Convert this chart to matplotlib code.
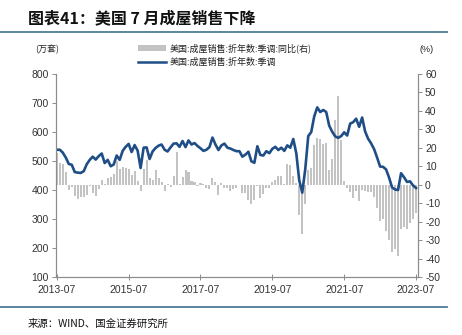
import matplotlib
matplotlib.use('Agg')
import matplotlib.pyplot as plt
from matplotlib.patches import Patch
from matplotlib.lines import Line2D
import numpy as np

plt.rcParams['font.family'] = ['Liberation Sans', 'Noto Sans CJK SC', 'DejaVu Sans']
plt.rcParams['axes.unicode_minus'] = False

# 月度数据：2013-07 至 2023-07
xtick_labels = ['2013-07', '2015-07', '2017-07', '2019-07', '2021-07', '2023-07']

# 成屋销售：折年数：季调（万套）
sales = [
    539, 539, 529, 512, 490, 487,
    462, 460, 459, 465, 489, 504, 515, 505, 517, 526, 493, 504,
    482, 488, 519, 504, 535, 549, 559, 531, 555, 536, 476, 546,
    547, 507, 533, 545, 553, 557, 539, 533, 547, 560, 561, 549,
    569, 548, 571, 557, 562, 552, 544, 535, 539, 548, 581, 557,
    538, 554, 560, 546, 543, 538, 534, 534, 515, 522, 532, 499,
    494, 551, 521, 519, 534, 527, 542, 549, 538, 546, 535, 554,
    546, 576, 527, 433, 391, 472, 586, 600, 654, 685, 669, 676,
    669, 622, 601, 585, 580, 586, 599, 588, 629, 634, 646, 618,
    650, 602, 577, 561, 541, 512, 481, 480, 471, 443, 409, 402,
    400, 458, 444, 428, 430, 416, 407,
]

# 同比（%），右轴
yoy = [
    17.0, 11.8, 11.4, 6.9, -2.8, -1.4,
    -6.1, -7.6, -6.7, -6.4, -5.6, -0.8, -4.5, -6.3, -2.3, 2.7, 0.6, 3.5,
    4.3, 6.1, 13.1, 8.4, 9.4, 8.9, 8.5, 5.1, 7.4, 1.9, -3.4, 8.3,
    13.5, 3.9, 2.7, 8.1, 3.4, 1.5, -3.6, 0.4, -1.4, 4.5, 17.9, 0.5,
    4.0, 8.1, 7.1, 2.2, 1.6, -0.9, 0.9, 0.4, -1.5, -2.1, 3.6, 1.5,
    -5.4, 1.1, -1.9, -2.0, -3.4, -2.5, -1.8, -0.2, -4.5, -4.7, -8.4, -10.4,
    -8.2, -0.5, -7.0, -4.9, -1.7, -2.0, 1.5, 2.8, 4.5, 4.6, 0.6, 11.0,
    10.5, 4.5, 1.2, -16.6, -26.8, -10.4, 8.1, 9.3, 21.6, 25.5, 25.0, 22.0,
    22.5, 8.0, 14.0, 35.1, 48.3, 24.2, 2.2, -2.0, -3.8, -7.4, -3.4, -8.6,
    -2.8, -3.2, -4.0, -4.1, -6.7, -12.6, -19.7, -18.4, -25.1, -30.1, -36.7, -34.9,
    -38.5, -23.9, -23.1, -23.7, -20.5, -18.8, -15.4,
]

x = np.arange(len(sales))

fig = plt.figure(figsize=(4.62, 3.35), dpi=100)
ax1 = fig.add_axes([0.121, 0.173, 0.784, 0.606])
ax2 = ax1.twinx()

bar_color = '#c3c3c3'
line_color = '#1f4e87'
spine_color = '#8c8c8c'

ax2.bar(x, yoy, width=0.68, color=bar_color, linewidth=0)
ax1.plot(x, sales, color=line_color, lw=1.9)
ax1.set_zorder(ax2.get_zorder() + 1)
ax1.patch.set_visible(False)

ax1.set_xlim(-0.3, 120.7)
ax1.set_ylim(100, 800)
ax1.set_yticks(range(100, 801, 100))
ax2.set_ylim(-50, 60)
ax2.set_yticks(range(-50, 61, 10))
ax1.set_xticks(range(0, 121, 24))
ax1.set_xticklabels(xtick_labels)

for ax in (ax1, ax2):
    for s in ax.spines.values():
        s.set_color(spine_color)
        s.set_linewidth(0.8)
    ax.spines['top'].set_visible(False)
    ax.tick_params(labelsize=7.5, colors='#333333', length=3, width=0.7)
    ax.tick_params(axis='both', color=spine_color)
ax1.tick_params(axis='x', direction='inout', length=4, pad=4)
ax1.tick_params(axis='y', pad=2)
ax2.tick_params(axis='y', pad=2)

# 标题与分隔线
fig.text(0.06, 0.945, '图表41：美国 7 月成屋销售下降', fontsize=11.5, fontweight='bold',
         style='italic', family=['Noto Sans CJK SC'], ha='left', va='center', color='#111111')
fig.add_artist(Line2D([0.0, 0.968], [0.904, 0.904], color='#4d7c98', lw=1.3))
fig.add_artist(Line2D([0.0, 0.968], [0.083, 0.083], color='#4d7c98', lw=1.3))
fig.text(0.06, 0.035, '来源：WIND、国金证券研究所', fontsize=7.5,
         family=['Noto Sans CJK SC'], ha='left', va='center', color='#111111')

fig.text(0.076, 0.853, '(万套)', fontsize=6.5, family=['Noto Sans CJK SC'],
         ha='left', va='center', color='#222222')
fig.text(0.908, 0.853, '(%)', fontsize=6.5, ha='left', va='center', color='#222222')

handles = [Patch(facecolor=bar_color, edgecolor='none'),
           Line2D([0], [0], color=line_color, lw=1.8)]
labels = ['美国:成屋销售:折年数:季调:同比(右)', '美国:成屋销售:折年数:季调']
fig.legend(handles, labels, loc='upper left', bbox_to_anchor=(0.29, 0.885),
           frameon=False, prop={'family': 'Noto Sans CJK SC', 'size': 6.5},
           handlelength=3.0, handleheight=0.6, handletextpad=0.4,
           labelspacing=0.55, borderpad=0, labelcolor='#222222')

fig.savefig('out.png', dpi=100)
